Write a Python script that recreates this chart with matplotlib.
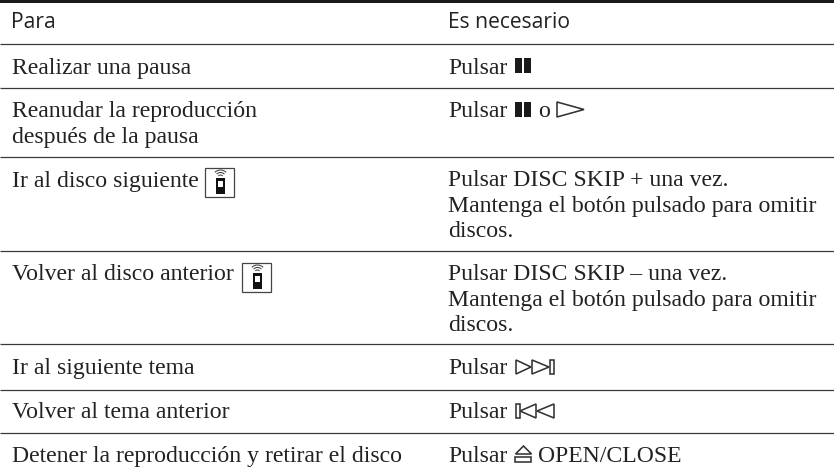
import matplotlib
matplotlib.use('Agg')
import matplotlib.pyplot as plt
from matplotlib.patches import Arc, Polygon, Rectangle

headers = ['Para', 'Es necesario']
left_lines = ['Realizar una pausa', 'Reanudar la reproducción', 'después de la pausa',
              'Ir al disco siguiente', 'Volver al disco anterior', 'Ir al siguiente tema',
              'Volver al tema anterior', 'Detener la reproducción y retirar el disco']
left_y = [74, 117, 143, 187, 280, 374, 418, 462]
right_lines = ['Pulsar', 'Pulsar',
               'Pulsar DISC SKIP + una vez.', 'Mantenga el botón pulsado para omitir', 'discos.',
               'Pulsar DISC SKIP – una vez.', 'Mantenga el botón pulsado para omitir', 'discos.',
               'Pulsar', 'Pulsar', 'Pulsar']
right_y = [74, 117, 186, 212, 237, 280, 306, 331, 374, 418, 462]
rule_y = [44, 88, 157, 251, 344, 390, 433]

INK = '#222222'


def triangle(ax, x0, x1, y0, y1):
    # apex sits at x1, so x1 < x0 points left
    ax.add_patch(Polygon([(x0, y0), (x1, (y0 + y1) / 2), (x0, y1)], closed=True,
                         fill=False, ec='#333333', lw=1.15))


def remote_icon(ax, x, y):
    ax.add_patch(Rectangle((x, y), 29, 29, fill=False, ec='#444444', lw=0.9))
    ax.add_patch(Rectangle((x + 11, y + 10), 9, 16, fc='#111111', ec='none'))
    ax.add_patch(Rectangle((x + 13, y + 13), 5, 6, fc='white', ec='none'))
    for r in [3, 5.5, 8]:
        ax.add_patch(Arc((x + 15.5, y + 10), 2 * r, 2 * r, theta1=225, theta2=315,
                         ec='#333333', lw=0.7))


def pause_icon(ax, x, y):
    ax.add_patch(Rectangle((x, y), 7, 15, fc='#1a1a1a', ec='none'))
    ax.add_patch(Rectangle((x + 9.5, y), 7, 15, fc='#1a1a1a', ec='none'))


def main():
    fig = plt.figure(figsize=(8.34, 4.73), dpi=100)
    ax = fig.add_axes([0, 0, 1, 1])
    ax.set_xlim(0, 834)
    ax.set_ylim(473, 0)
    ax.axis('off')

    ax.add_patch(Rectangle((0, 0), 834, 3, fc='#1a1a1a', ec='none'))
    for y in rule_y:
        ax.plot([0, 834], [y, y], color='#3a3a3a', lw=0.9, solid_capstyle='butt')

    sans = dict(family='Open Sans', fontsize=15.2, weight='medium', color=INK, va='baseline')
    serif = dict(family='Liberation Serif', fontsize=17.1, color=INK, va='baseline')
    ax.text(11, 28, headers[0], **sans)
    ax.text(448, 28, headers[1], **sans)

    for line, y in zip(left_lines, left_y):
        ax.text(12, y, line, **serif)
    for line, y in zip(right_lines, right_y):
        ax.text(448, y, line, **serif)

    ax.text(538, 117, 'o', **serif)
    ax.text(538, 462, 'OPEN/CLOSE', **serif)

    pause_icon(ax, 515, 58.5)
    pause_icon(ax, 515, 101.5)
    triangle(ax, 557, 584, 102, 117)

    remote_icon(ax, 205, 168)
    remote_icon(ax, 242, 263)

    # forward
    triangle(ax, 516, 531, 360, 374)
    triangle(ax, 532, 549, 360, 374)
    ax.add_patch(Rectangle((550, 360), 4, 14, fill=False, ec='#333333', lw=1.15))
    # back
    ax.add_patch(Rectangle((516, 404), 4, 14, fill=False, ec='#333333', lw=1.15))
    triangle(ax, 536, 520, 404, 418)
    triangle(ax, 554, 537, 404, 418)
    # eject
    ax.add_patch(Polygon([(515.5, 454), (523.5, 446), (531.5, 454)], closed=True,
                         fill=False, ec='#333333', lw=1.15))
    ax.add_patch(Rectangle((515.5, 457), 16, 5, fill=False, ec='#333333', lw=1.15))

    fig.savefig('out.png', dpi=100)


if __name__ == "__main__":
    main()
